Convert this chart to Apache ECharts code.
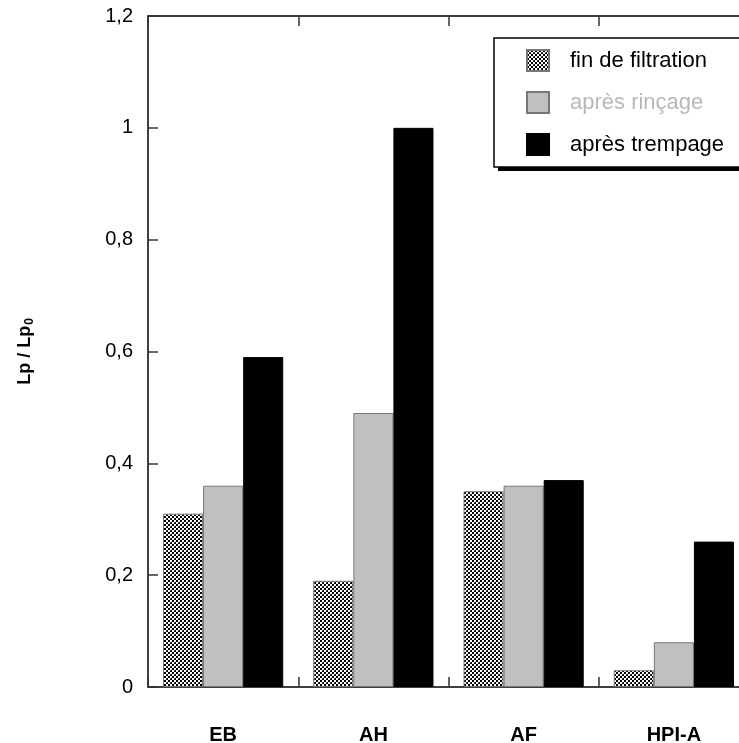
<!DOCTYPE html>
<html>
<head>
<meta charset="utf-8">
<script src="https://cdn.jsdelivr.net/npm/echarts@6/dist/echarts.min.js"></script>
<style>html,body{margin:0;padding:0;background:#fff;overflow:hidden;}#c{width:739px;height:743px;}</style>
</head>
<body>
<div id="c"></div>
<script>
var categories = ['EB', 'AH', 'AF', 'HPI-A'];
var seriesNames = ['fin de filtration', 'après rinçage', 'après trempage'];
var finFiltration = [0.31, 0.19, 0.35, 0.03];
var apresRincage = [0.36, 0.49, 0.36, 0.08];
var apresTrempage = [0.59, 1.0, 0.37, 0.26];
var yTicks = [0, 0.2, 0.4, 0.6, 0.8, 1, 1.2];

function makeHatch() {
  var c = document.createElement('canvas');
  c.width = 4; c.height = 4;
  var ctx = c.getContext('2d');
  ctx.fillStyle = '#fff';
  ctx.fillRect(0, 0, 4, 4);
  ctx.fillStyle = '#000';
  for (var x = 0; x < 4; x++) {
    for (var y = 0; y < 4; y++) {
      if ((Math.floor(x / 2) + Math.floor(y / 2)) % 2 === 0) ctx.fillRect(x, y, 1, 1);
    }
  }
  ctx.fillStyle = '#555';
  ctx.fillRect(2, 2, 1, 1);
  return c;
}
var hatch = { image: makeHatch(), repeat: 'repeat' };

var chart = echarts.init(document.getElementById('c'), null, { renderer: 'canvas' });
var fmt = function (v) { return String(Math.round(v * 10) / 10).replace('.', ','); };
var axisLine = { show: true, onZero: false, lineStyle: { color: '#000', width: 1.5 } };
var tickIn = { show: true, inside: true, length: 10, lineStyle: { color: '#333', width: 1.5 } };
var FONT = 'Arial, "Liberation Sans", sans-serif';

chart.setOption({
  animation: false,
  backgroundColor: '#fff',
  textStyle: { fontFamily: FONT },
  grid: { left: 148, width: 601, top: 16, bottom: 56, containLabel: false, outerBoundsMode: 'none' },
  graphic: [
    { type: 'rect', z: 0, shape: { x: 498, y: 42, width: 300, height: 129 }, style: { fill: '#000' } }
  ],
  legend: {
    orient: 'vertical',
    left: 494,
    top: 38,
    z: 10,
    data: [
      { name: seriesNames[0], textStyle: { color: '#000' } },
      { name: seriesNames[1], textStyle: { color: '#b8b8b8' } },
      { name: seriesNames[2], textStyle: { color: '#000' } }
    ],
    icon: 'rect',
    itemWidth: 22,
    itemHeight: 21,
    itemGap: 19,
    padding: [11, 30, 11, 32],
    backgroundColor: '#fff',
    borderColor: '#000',
    borderWidth: 1.5,
    borderRadius: 0,
    textStyle: { fontSize: 22, fontFamily: FONT, padding: [0, 0, 0, 16] }
  },
  xAxis: [
    {
      type: 'category', data: categories, position: 'bottom',
      axisLine: axisLine, axisTick: tickIn,
      axisLabel: { margin: 38, fontSize: 20, fontWeight: 'bold', color: '#000' },
      splitLine: { show: false }
    },
    {
      type: 'category', data: categories, position: 'top',
      axisLine: axisLine, axisTick: tickIn,
      axisLabel: { show: false }, splitLine: { show: false }
    }
  ],
  yAxis: [
    {
      type: 'value', min: 0, max: 1.2, interval: 0.2, position: 'left',
      axisLine: axisLine, axisTick: tickIn,
      axisLabel: { margin: 15, fontSize: 20, color: '#000', formatter: fmt },
      splitLine: { show: false },
      name: '{a|Lp / Lp}{b|0}',
      nameLocation: 'middle',
      nameGap: 112,
      nameRotate: 90,
      nameTextStyle: {
        rich: {
          a: { fontSize: 18, fontWeight: 'bold', color: '#000', fontFamily: FONT },
          b: { fontSize: 12, fontWeight: 'bold', color: '#000', verticalAlign: 'bottom', padding: [10, 0, 0, 1], fontFamily: FONT }
        }
      }
    },
    {
      type: 'value', min: 0, max: 1.2, interval: 0.2, position: 'right',
      axisLine: axisLine, axisTick: tickIn,
      axisLabel: { show: false }, splitLine: { show: false }
    }
  ],
  series: [
    {
      name: seriesNames[0], type: 'bar', data: finFiltration,
      barGap: '0%', barCategoryGap: '20%',
      itemStyle: { color: hatch, borderColor: '#777', borderWidth: 1 }
    },
    {
      name: seriesNames[1], type: 'bar', data: apresRincage,
      barGap: '0%', barCategoryGap: '20%',
      itemStyle: { color: '#c0c0c0', borderColor: '#777', borderWidth: 1 }
    },
    {
      name: seriesNames[2], type: 'bar', data: apresTrempage,
      barGap: '0%', barCategoryGap: '20%',
      itemStyle: { color: '#000', borderColor: '#000', borderWidth: 1 }
    }
  ]
});
</script>
</body>
</html>
